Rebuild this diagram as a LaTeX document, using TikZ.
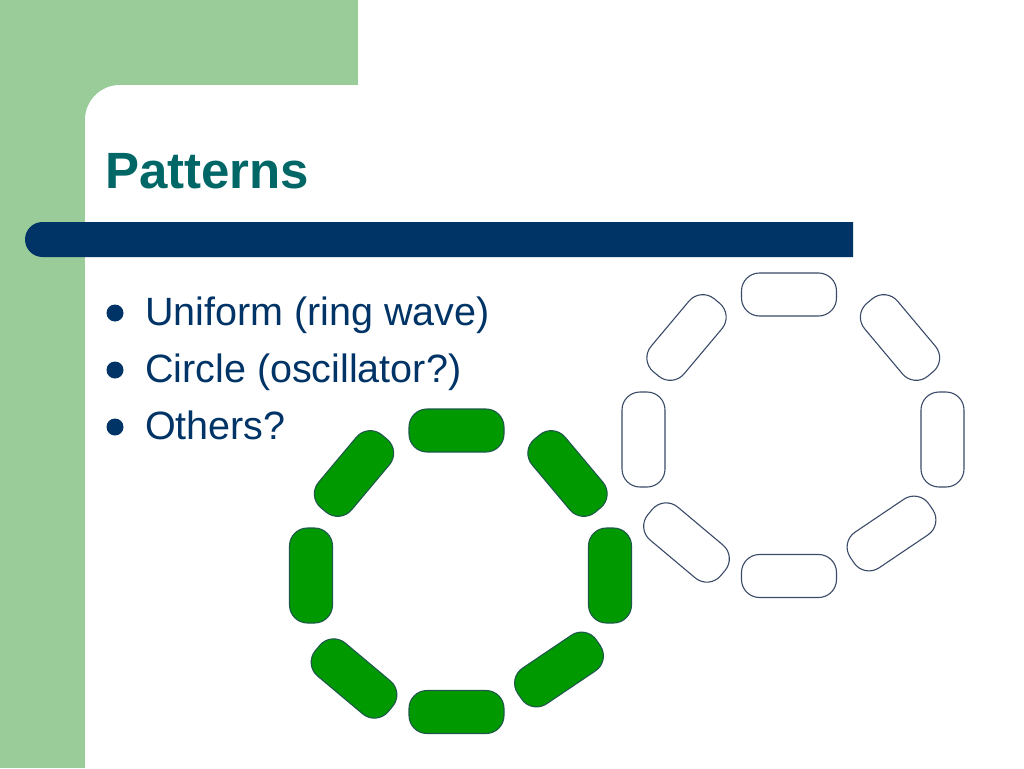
\documentclass[tikz,border=0pt]{standalone}
\usepackage{fontspec}
\setmainfont{Liberation Sans}
\definecolor{sidegreen}{HTML}{99CC99}
\definecolor{barnavy}{HTML}{003366}
\definecolor{titleteal}{HTML}{006666}
\definecolor{textnavy}{HTML}{003366}
\definecolor{capgreen}{HTML}{009900}
\definecolor{capgreenline}{HTML}{1E5A4A}
\definecolor{caplineblue}{HTML}{3A4A68}
\tikzset{
  capsule/.style={rectangle, rounded corners=18pt, minimum width=95pt, minimum height=43pt, inner sep=0pt, line width=1.1pt},
  greencap/.style={capsule, fill=capgreen, draw=capgreenline},
  whitecap/.style={capsule, fill=white, draw=caplineblue},
  bullettext/.style={anchor=base west, inner sep=0pt, text=textnavy, font=\fontsize{39.5}{46}\selectfont},
  bulletdot/.style={circle, fill=textnavy, minimum size=17pt, inner sep=0pt},
}
\begin{document}
\begin{tikzpicture}[x=1pt,y=1pt]
\useasboundingbox (0,0) rectangle (1024,-768);
% background
\fill[white] (0,0) rectangle (1024,-768);
\fill[sidegreen] (0,0) rectangle (358,-768);
\fill[white] (85,-768) -- (85,-120) arc[start angle=180, end angle=90, radius=35] -- (1024,-85) -- (1024,-768) -- cycle;
% title bar
\fill[barnavy] (853,-222) -- (42.5,-222) arc[start angle=90, end angle=270, radius=17.5] -- (853,-257) -- cycle;
% title
\node[anchor=base west, inner sep=0pt, text=titleteal, font=\fontsize{51}{60}\selectfont\bfseries] (title) at (105,-188) {Patterns};
% bullets
\node[bulletdot] (b1) at (115,-313) {};
\node[bulletdot] (b2) at (115,-370) {};
\node[bulletdot] (b3) at (115,-427) {};
\node[bullettext] (t1) at (145,-325) {Uniform (ring wave)};
\node[bullettext] (t2) at (145,-382) {Circle (oscillator?)};
\node[bullettext] (t3) at (145,-439) {Others?};
% white ring
\begin{scope}[shift={(332.5,136)}]
\node[whitecap] (wtop) at (456.5,-430.5) {};
\node[whitecap] (wbot) at (456.5,-712) {};
\node[whitecap, rotate=90] (wleft) at (311,-575.5) {};
\node[whitecap, rotate=90] (wright) at (610,-575.5) {};
\node[whitecap, rotate=50] (wtl) at (354,-473.5) {};
\node[whitecap, rotate=-50] (wtr) at (567.5,-473.5) {};
\node[whitecap, rotate=-40] (wbl) at (354,-678.5) {};
\node[whitecap, rotate=34] (wbr) at (559,-669.5) {};
\end{scope}
% green ring
\node[greencap] (gtop) at (456.5,-430.5) {};
\node[greencap] (gbot) at (456.5,-712) {};
\node[greencap, rotate=90] (gleft) at (311,-575.5) {};
\node[greencap, rotate=90] (gright) at (610,-575.5) {};
\node[greencap, rotate=50] (gtl) at (354,-473.5) {};
\node[greencap, rotate=-50] (gtr) at (567.5,-473.5) {};
\node[greencap, rotate=-40] (gbl) at (354,-678.5) {};
\node[greencap, rotate=34] (gbr) at (559,-669.5) {};
\end{tikzpicture}
\end{document}
